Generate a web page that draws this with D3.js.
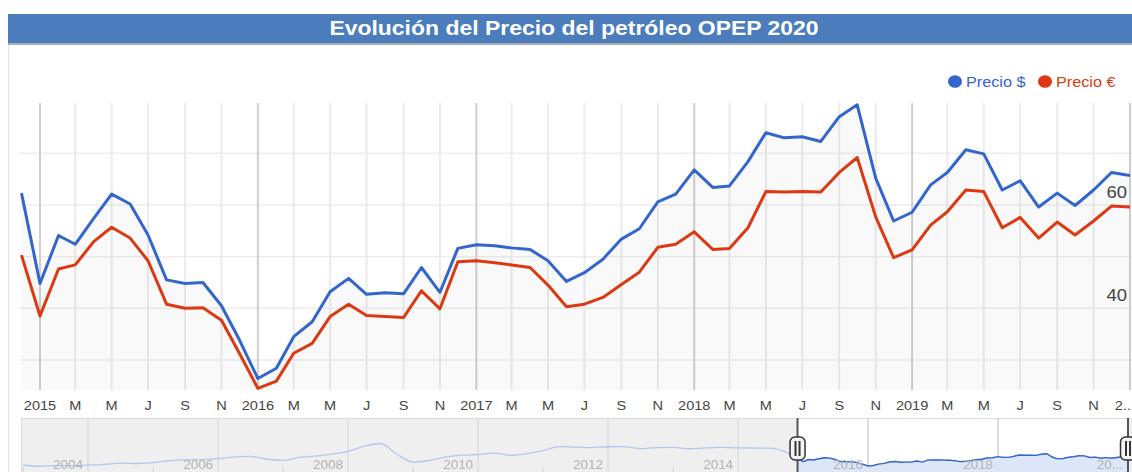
<!DOCTYPE html>
<html><head><meta charset="utf-8">
<script src="https://cdn.jsdelivr.net/npm/d3@7"></script>
<style>body{margin:0;background:#fff}svg{display:block;font-family:"Liberation Sans",Arial,sans-serif}</style>
</head><body><svg id="c" width="1132" height="472"></svg>
<script>
// ---- data ----
const months = d3.timeMonth.range(new Date(2014, 11, 1), new Date(2020, 1, 1)); // Dec 2014 .. Jan 2020
const precioUSD = [62.3,
  44.8, 54.1, 52.4, 57.4, 62.1, 60.2, 54.2, 45.5, 44.8, 45.0, 40.5, 33.9,
  26.4, 28.4, 34.5, 37.4, 43.2, 45.8, 42.7, 43.0, 42.8, 47.9, 43.1, 51.6,
  52.3, 52.1, 51.7, 51.4, 49.2, 45.2, 46.9, 49.5, 53.4, 55.4, 60.6, 62.1,
  66.8, 63.4, 63.7, 68.4, 74.0, 73.0, 73.2, 72.3, 77.1, 79.4, 65.2, 56.9,
  58.6, 63.9, 66.3, 70.7, 69.9, 62.9, 64.7, 59.6, 62.3, 59.9, 62.9, 66.3,
  65.7];
const precioEUR = [50.3,
  38.5, 47.6, 48.4, 52.9, 55.7, 53.6, 49.2, 40.8, 40.0, 40.1, 37.7, 31.3,
  24.5, 25.9, 31.3, 33.2, 38.4, 40.8, 38.6, 38.4, 38.2, 43.4, 39.9, 49.0,
  49.2, 48.8, 48.4, 47.9, 44.5, 40.3, 40.8, 42.1, 44.6, 47.0, 51.8, 52.4,
  54.8, 51.4, 51.6, 55.6, 62.6, 62.5, 62.6, 62.5, 66.3, 69.2, 57.7, 49.8,
  51.3, 56.1, 58.7, 62.9, 62.6, 55.6, 57.6, 53.6, 56.7, 54.2, 56.9, 59.8,
  59.6];
const seriesNames = ["Precio $", "Precio €"];
const xTickLabels = ["2015","M","M","J","S","N","2016","M","M","J","S","N","2017","M","M","J","S","N",
  "2018","M","M","J","S","N","2019","M","M","J","S","N","2.."];
const yTickLabels = [40, 60];
const gridValues = [30, 40, 50, 60, 70];
// overview (range navigator) history, quarterly 2003-2014, US$
const navHistDates = d3.timeMonth.range(new Date(2003, 0, 1), new Date(2014, 11, 1), 3);
const navHistUSD = [30.5, 25.0, 27.5, 28.0, 30.0, 33.5, 38.5, 37.0, 40.5, 49.0, 53.0, 54.0,
  58.0, 65.0, 68.0, 55.5, 50.7, 63.3, 69.3, 78.0, 90.0, 112.0, 124.0, 78.0,
  43.0, 50.0, 64.5, 73.0, 76.0, 82.0, 72.5, 79.5, 92.8, 110.1, 108.0, 106.0,
  109.8, 110.2, 101.6, 106.4, 107.3, 101.1, 104.5, 106.7, 104.7, 104.3, 103.6, 85.1];
const navYearLabels = ["2004","2006","2008","2010","2012","2014","2016","2018","20..."];
const title = "Evolución del Precio del petróleo OPEP 2020";

// ---- setup ----
const BLUE = "#3366cc", RED = "#dc3912", SX = 1.12;
const svg = d3.select("#c");
function stext(g, x, y, txt, size, fill, anchor, weight) {
  return g.append("text").attr("transform", `translate(${x},${y}) scale(${SX},1)`)
    .attr("font-size", size).attr("fill", fill).attr("text-anchor", anchor || "start")
    .attr("font-weight", weight || "normal").text(txt);
}
const data = months.map((d, i) => ({date: d, usd: precioUSD[i], eur: precioEUR[i]}));

// title bar
svg.append("rect").attr("x", 8).attr("y", 14).attr("width", 1124).attr("height", 29.5).attr("fill", "#4b7dbd");
svg.append("rect").attr("x", 8).attr("y", 43).attr("width", 1124).attr("height", 2).attr("fill", "#a6adb8");
stext(svg, 574, 35, title, 20.5, "#fff", "middle", "bold");
// left border
svg.append("line").attr("x1", 8.5).attr("x2", 8.5).attr("y1", 45).attr("y2", 472).attr("stroke", "#e2e2e2");

// ---- main plot ----
const P = {l: 20, r: 1132, t: 103, b: 390};
const x = d3.scaleTime().domain([new Date(2015, 0, 1), new Date(2020, 0, 1)]).range([40, 1130]);
const y = d3.scaleLinear().domain([40, 60]).range([308.3, 205]);
svg.append("clipPath").attr("id", "pc").append("rect").attr("x", P.l).attr("y", P.t - 2)
  .attr("width", P.r - P.l).attr("height", P.b - P.t + 2);
const plot = svg.append("g").attr("clip-path", "url(#pc)");

plot.selectAll(".hg").data(gridValues).join("line")
  .attr("x1", P.l).attr("x2", P.r).attr("y1", d => y(d)).attr("y2", d => y(d))
  .attr("stroke", "#ededed").attr("stroke-width", 1.5);
const xTicks = d3.timeMonth.range(new Date(2015, 0, 1), new Date(2020, 0, 2), 2);
plot.selectAll(".vg").data(xTicks).join("line")
  .attr("x1", d => x(d)).attr("x2", d => x(d)).attr("y1", P.t).attr("y2", P.b)
  .attr("stroke", d => d.getMonth() === 0 ? "#cfcfcf" : "#ebebeb").attr("stroke-width", 2);

plot.append("path").datum(data)
  .attr("d", d3.area().x(d => x(d.date)).y0(P.b).y1(d => y(d.usd)))
  .attr("fill", "#000").attr("fill-opacity", 0.025);
plot.append("path").datum(data)
  .attr("d", d3.line().x(d => x(d.date)).y(d => y(d.eur)))
  .attr("fill", "none").attr("stroke", RED).attr("stroke-width", 3).attr("stroke-linejoin", "round");
plot.append("path").datum(data)
  .attr("d", d3.line().x(d => x(d.date)).y(d => y(d.usd)))
  .attr("fill", "none").attr("stroke", BLUE).attr("stroke-width", 3).attr("stroke-linejoin", "round");

yTickLabels.forEach(v => stext(svg, 1127, y(v) - 7.5, String(v), 16.5, "#444", "end"));

// x labels
xTicks.forEach((d, i) => {
  const lab = xTickLabels[i];
  if (i === xTicks.length - 1) stext(svg, 1131, 410, lab, 13, "#444", "end");
  else stext(svg, x(d), 410, lab, 13, "#444", "middle");
});

// legend
[[955, BLUE, seriesNames[0]], [1045, RED, seriesNames[1]]].forEach(([lx, c, t]) => {
  svg.append("ellipse").attr("cx", lx).attr("cy", 81.5).attr("rx", 7).attr("ry", 6.3).attr("fill", c);
  stext(svg, lx + 11, 87, t, 14.5, c, "start");
});

// ---- range navigator ----
const N = {t: 418, b: 472, l: 21, r: 1132};
const nx = d3.scaleTime().domain([new Date(2004, 0, 1), new Date(2016, 0, 1)]).range([88, 868]);
const ny = d3.scaleLinear().domain([0, 150]).range([472, 437.5]);
const selA = nx(months[0]), selB = nx(months[months.length - 1]);
svg.append("rect").attr("x", N.l).attr("y", N.t).attr("width", N.r - N.l).attr("height", N.b - N.t).attr("fill", "#efefef");
svg.append("rect").attr("x", selA).attr("y", N.t).attr("width", selB - selA).attr("height", N.b - N.t).attr("fill", "#fff");
svg.append("line").attr("x1", N.l).attr("x2", N.r).attr("y1", N.t + 0.5).attr("y2", N.t + 0.5).attr("stroke", "#dadada");
svg.append("line").attr("x1", N.l + 0.5).attr("x2", N.l + 0.5).attr("y1", N.t).attr("y2", N.b).attr("stroke", "#dadada");
const navYears = d3.range(2004, 2021, 2).map(yy => new Date(yy, 0, 1));
svg.selectAll(".ny").data(navYears).join("line")
  .attr("x1", d => nx(d)).attr("x2", d => nx(d)).attr("y1", N.t).attr("y2", N.b)
  .attr("stroke", d => nx(d) > selA ? "#d0d0d0" : "#dcdcdc").attr("stroke-width", 1.5);
const oddYears = d3.range(2003, 2020, 2).map(yy => new Date(yy, 0, 1));
svg.selectAll(".nm").data(oddYears).join("line")
  .attr("x1", d => nx(d)).attr("x2", d => nx(d)).attr("y1", 467).attr("y2", N.b)
  .attr("stroke", "#cfcfcf").attr("stroke-width", 1);
const navAll = navHistDates.map((d, i) => ({date: d, v: navHistUSD[i]}))
  .concat(data.map(d => ({date: d.date, v: d.usd})));
svg.append("path").datum(navAll)
  .attr("d", d3.line().curve(d3.curveMonotoneX).x(d => nx(d.date)).y(d => ny(d.v)))
  .attr("fill", "none").attr("stroke", "#b3c7ea").attr("stroke-width", 1.3);
svg.append("path").datum(data)
  .attr("d", d3.area().x(d => nx(d.date)).y0(N.b).y1(d => ny(d.usd)))
  .attr("fill", "#dde6f7");
svg.append("path").datum(data)
  .attr("d", d3.line().x(d => nx(d.date)).y(d => ny(d.usd)))
  .attr("fill", "none").attr("stroke", BLUE).attr("stroke-width", 1.4);
navYears.forEach((d, i) => stext(svg, nx(d) - 5, 468.5, navYearLabels[i], 12, "#b4b4b4", "end"));
// handles
[selA, selB].forEach(hx => {
  const g = svg.append("g");
  g.append("line").attr("x1", hx).attr("x2", hx).attr("y1", N.t).attr("y2", N.b).attr("stroke", "#555").attr("stroke-width", 2);
  g.append("rect").attr("x", hx - 7.5).attr("y", 437).attr("width", 15).attr("height", 23).attr("rx", 5)
    .attr("fill", "#f4f4f4").attr("stroke", "#333").attr("stroke-width", 1.5);
  g.append("rect").attr("x", hx - 3).attr("y", 441).attr("width", 2).attr("height", 15).attr("fill", "#333");
  g.append("rect").attr("x", hx + 1).attr("y", 441).attr("width", 2).attr("height", 15).attr("fill", "#333");
});
</script></body></html>
